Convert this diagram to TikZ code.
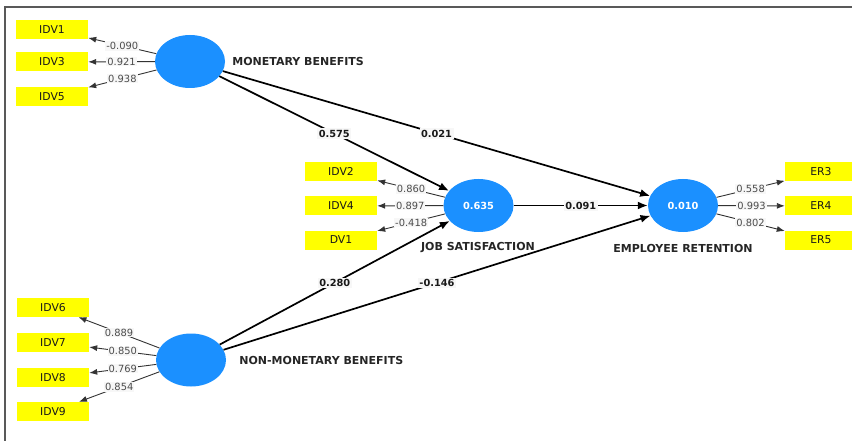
\documentclass[tikz,border=0pt]{standalone}
\usepackage{fontspec}
\setmainfont{DejaVu Sans}
\usetikzlibrary{shapes.geometric,arrows.meta,positioning,calc}
\definecolor{lvblue}{HTML}{1B90FF}
\definecolor{mvyellow}{HTML}{FFFF00}

\begin{document}
\begin{tikzpicture}[x=1pt, y=-1pt,
    latent/.style={ellipse, fill=lvblue, minimum width=70pt, minimum height=53pt, inner sep=0pt,
        text=white, font=\bfseries\fontsize{9.8}{11}\selectfont},
    indicator/.style={rectangle, fill=mvyellow, minimum width=72pt, minimum height=19pt, inner sep=0pt,
        text=black!90, font=\fontsize{10.8}{12}\selectfont},
    lvname/.style={inner sep=0pt, text=black!85, font=\bfseries\fontsize{11}{13}\selectfont},
    loading/.style={draw=black!80, line width=0.9pt, -{Latex[length=8pt,width=6pt]}},
    pathcoef/.style={draw=black, line width=1.7pt, -{Latex[length=10pt,width=8pt]}},
    loadval/.style={fill=gray!6, inner sep=1pt, text=black!70, font=\fontsize{9.9}{11}\selectfont},
    pathval/.style={fill=gray!6, inner sep=1.5pt, text=black!90, font=\bfseries\fontsize{9.8}{11}\selectfont}]

    % Page size and frame
    \useasboundingbox (0,0) rectangle (852,441);
    \draw[line width=1.5pt, black!65] (5,441) -- (5,7) -- (852,7);

    % Latent variables
    \node[latent] (mb) at (190,61.5) {};
    \node[latent] (js) at (478.5,205.5) {0.635};
    \node[latent] (er) at (683,205.5) {0.010};
    \node[latent] (nmb) at (191,360) {};

    \node[lvname, right=7pt of mb] {MONETARY BENEFITS};
    \node[lvname] at (478,248) {JOB SATISFACTION};
    \node[lvname] at (683,248) {EMPLOYEE RETENTION};
    \node[lvname, right=13pt of nmb] {NON-MONETARY BENEFITS};

    % Indicators of monetary benefits
    \node[indicator] (idv1) at (52,29.5) {IDV1};
    \node[indicator] (idv3) at (52,62) {IDV3};
    \node[indicator] (idv5) at (52,96.5) {IDV5};

    % Indicators of job satisfaction
    \node[indicator] (idv2) at (341,171.5) {IDV2};
    \node[indicator] (idv4) at (341,206) {IDV4};
    \node[indicator] (dv1) at (341,240) {DV1};

    % Indicators of employee retention
    \node[indicator] (er3) at (821,172) {ER3};
    \node[indicator] (er4) at (821,206) {ER4};
    \node[indicator] (er5) at (821,240) {ER5};

    % Indicators of non-monetary benefits
    \node[indicator] (idv6) at (53,307.5) {IDV6};
    \node[indicator] (idv7) at (53,342.5) {IDV7};
    \node[indicator] (idv8) at (53,377.5) {IDV8};
    \node[indicator] (idv9) at (53,411.5) {IDV9};

    % Outer loadings
    \begin{scope}[every node/.style={loadval}]
        \draw[loading] (mb) -- node {-0.090} (idv1);
        \draw[loading] (mb) -- node {0.921} (idv3);
        \draw[loading] (mb) -- node {0.938} (idv5);

        \draw[loading] (js) -- node {0.860} (idv2);
        \draw[loading] (js) -- node {0.897} (idv4);
        \draw[loading] (js) -- node {-0.418} (dv1);

        \draw[loading] (er) -- node {0.558} (er3);
        \draw[loading] (er) -- node {0.993} (er4);
        \draw[loading] (er) -- node {0.802} (er5);

        \draw[loading] (nmb) -- node {0.889} (idv6);
        \draw[loading] (nmb) -- node {0.850} (idv7);
        \draw[loading] (nmb) -- node {0.769} (idv8);
        \draw[loading] (nmb) -- node {0.854} (idv9);
    \end{scope}

    % Path coefficients
    \begin{scope}[every node/.style={pathval}]
        \draw[pathcoef] (mb) -- node {0.575} (js);
        \draw[pathcoef] (mb) -- node {0.021} (er);
        \draw[pathcoef] (js) -- node {0.091} (er);
        \draw[pathcoef] (nmb) -- node {0.280} (js);
        \draw[pathcoef] (nmb) -- node {-0.146} (er);
    \end{scope}
\end{tikzpicture}
\end{document}
